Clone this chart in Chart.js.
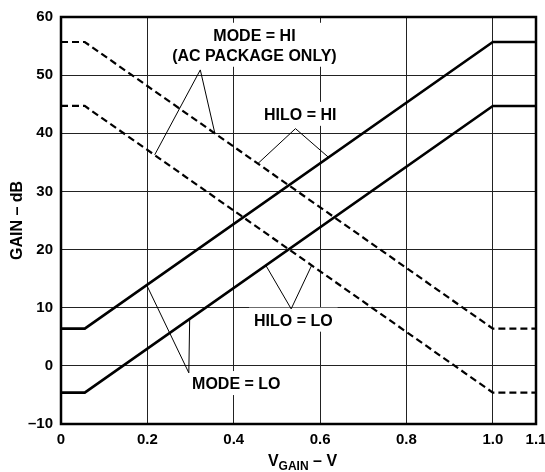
<!DOCTYPE html>
<html>
<head>
<meta charset="utf-8">
<script src="https://cdn.jsdelivr.net/npm/chart.js@4/dist/chart.umd.min.js"></script>
<style>
  html, body { margin: 0; padding: 0; background: #fff; }
  #wrap { width: 545px; height: 472px; position: relative; }
</style>
</head>
<body>
<div id="wrap"><canvas id="gain"></canvas></div>
<script>
/* ── data ─────────────────────────────────────────────── */
const VGAIN = [0, 0.055, 1.0, 1.1];
const MODE_LO_HILO_HI = [6.4, 6.4, 55.7, 55.7];
const MODE_LO_HILO_LO = [-4.6, -4.6, 44.7, 44.7];
const MODE_HI_HILO_HI = [55.7, 55.7, 6.4, 6.4];
const MODE_HI_HILO_LO = [44.7, 44.7, -4.6, -4.6];
const X_TICKS = [0, 0.2, 0.4, 0.6, 0.8, 1.0, 1.1];
const Y_TICKS = [-10, 0, 10, 20, 30, 40, 50, 60];

/* labels + leader lines, in data units */
const NOTES = [
  { text: ["MODE = HI", "(AC PACKAGE ONLY)"], x: 0.448, y: 56.6,
    leader: [[0.217, 36.3], [0.3226, 50.9], [0.356, 40.1]] },
  { text: ["HILO = HI"], x: 0.554, y: 43.0,
    leader: [[0.456, 34.8], [0.543, 40.8], [0.619, 35.9]] },
  { text: ["HILO = LO"], x: 0.538, y: 7.6,
    leader: [[0.475, 17.2], [0.533, 9.8], [0.580, 17.2]] },
  { text: ["MODE = LO"], x: 0.406, y: -3.3,
    leader: [[0.199, 13.8], [0.296, -1.2], [0.298, 8.1]] }
];

const FAM = "'Liberation Sans', Arial, sans-serif";
const FONT = "bold 15px " + FAM;
const NOTE_FONT = "bold 16px " + FAM;

function pts(ys) { return VGAIN.map((x, i) => ({ x, y: ys[i] })); }

const notesPlugin = {
  id: "notes",
  beforeDatasetsDraw(chart) {
    const { ctx, scales: { x, y } } = chart;
    ctx.save();
    ctx.font = NOTE_FONT;
    ctx.textAlign = "center";
    ctx.textBaseline = "middle";
    NOTES.forEach(n => {
      const cx = x.getPixelForValue(n.x), cy = y.getPixelForValue(n.y);
      const lh = 20;
      const w = Math.max(...n.text.map(t => ctx.measureText(t).width)) + 10;
      const h = n.text.length * lh + 4;
      ctx.fillStyle = "#fff";
      ctx.fillRect(cx - w / 2, cy - lh / 2 - 4, w, h);
      ctx.fillStyle = "#000";
      n.text.forEach((t, i) => ctx.fillText(t, cx, cy + i * lh));
    });
    ctx.restore();
  },
  afterDatasetsDraw(chart) {
    const { ctx, chartArea: a, scales: { x, y } } = chart;
    ctx.save();
    ctx.strokeStyle = "#000";
    ctx.lineWidth = 1;
    NOTES.forEach(n => {
      ctx.beginPath();
      n.leader.forEach((p, i) => {
        const px = x.getPixelForValue(p[0]), py = y.getPixelForValue(p[1]);
        i ? ctx.lineTo(px, py) : ctx.moveTo(px, py);
      });
      ctx.stroke();
    });
    // frame
    ctx.lineWidth = 2.5;
    ctx.strokeRect(a.left, a.top, a.right - a.left, a.bottom - a.top);
    // axis titles
    ctx.fillStyle = "#000";
    ctx.textBaseline = "middle";
    const cx = (a.left + a.right) / 2 + 4, ty = 462;
    const parts = [["V", "bold 16px " + FAM, 0], ["GAIN", "bold 12px " + FAM, 5], [" \u2013 V", "bold 16px " + FAM, 0]];
    let tw = 0;
    parts.forEach(p => { ctx.font = p[1]; tw += ctx.measureText(p[0]).width; });
    let px = cx - tw / 2;
    ctx.textAlign = "left";
    parts.forEach(p => {
      ctx.font = p[1];
      ctx.fillText(p[0], px, ty + p[2]);
      px += ctx.measureText(p[0]).width;
    });
    ctx.translate(18, (a.top + a.bottom) / 2);
    ctx.rotate(-Math.PI / 2);
    ctx.textAlign = "center";
    ctx.font = "bold 16px " + FAM;
    ctx.fillText("GAIN \u2013 dB", 0, 0);
    ctx.restore();
  }
};

const solid = { borderColor: "#000", borderWidth: 2.6, pointRadius: 0, tension: 0, fill: false };
const dashed = { borderColor: "#000", borderWidth: 2.2, borderDash: [7, 4], pointRadius: 0, tension: 0, fill: false };

new Chart(document.getElementById("gain"), {
  type: "line",
  data: {
    datasets: [
      { label: "MODE = HI, HILO = HI", data: pts(MODE_HI_HILO_HI), ...dashed },
      { label: "MODE = HI, HILO = LO", data: pts(MODE_HI_HILO_LO), ...dashed },
      { label: "MODE = LO, HILO = HI", data: pts(MODE_LO_HILO_HI), ...solid },
      { label: "MODE = LO, HILO = LO", data: pts(MODE_LO_HILO_LO), ...solid }
    ]
  },
  options: {
    responsive: true,
    maintainAspectRatio: false,
    animation: false,
    layout: { padding: { top: 17, right: 9, left: 0, bottom: 0 } },
    plugins: { legend: { display: false }, tooltip: { enabled: false } },
    scales: {
      x: {
        type: "linear", min: 0, max: 1.1,
        afterBuildTicks: s => { s.ticks = X_TICKS.map(v => ({ value: v })); },
        afterFit: s => { s.height = 48; s.paddingRight = 0; s.paddingLeft = 0; },
        grid: {
          drawTicks: false,
          color: c => (c.tick && (c.tick.value === 0 || c.tick.value === 1.1)) ? "rgba(0,0,0,0)" : "#222",
          lineWidth: 1
        },
        border: { display: false },
        ticks: {
          padding: 7, color: "#000", maxRotation: 0, autoSkip: false,
          font: { family: FAM, size: 15, weight: "bold" },
          callback: v => v === 0 ? "0" : v.toFixed(1)
        }
      },
      y: {
        type: "linear", min: -10, max: 60,
        afterBuildTicks: s => { s.ticks = Y_TICKS.map(v => ({ value: v })); },
        afterFit: s => { s.width = 61; s.paddingTop = 0; s.paddingBottom = 0; },
        grid: { drawTicks: false, color: "#222", lineWidth: 1 },
        border: { display: false },
        ticks: {
          padding: 8, color: "#000", autoSkip: false,
          font: { family: FAM, size: 15, weight: "bold" },
          callback: v => v < 0 ? "\u2013" + Math.abs(v) : String(v)
        }
      }
    }
  },
  plugins: [notesPlugin]
});
</script>
</body>
</html>
